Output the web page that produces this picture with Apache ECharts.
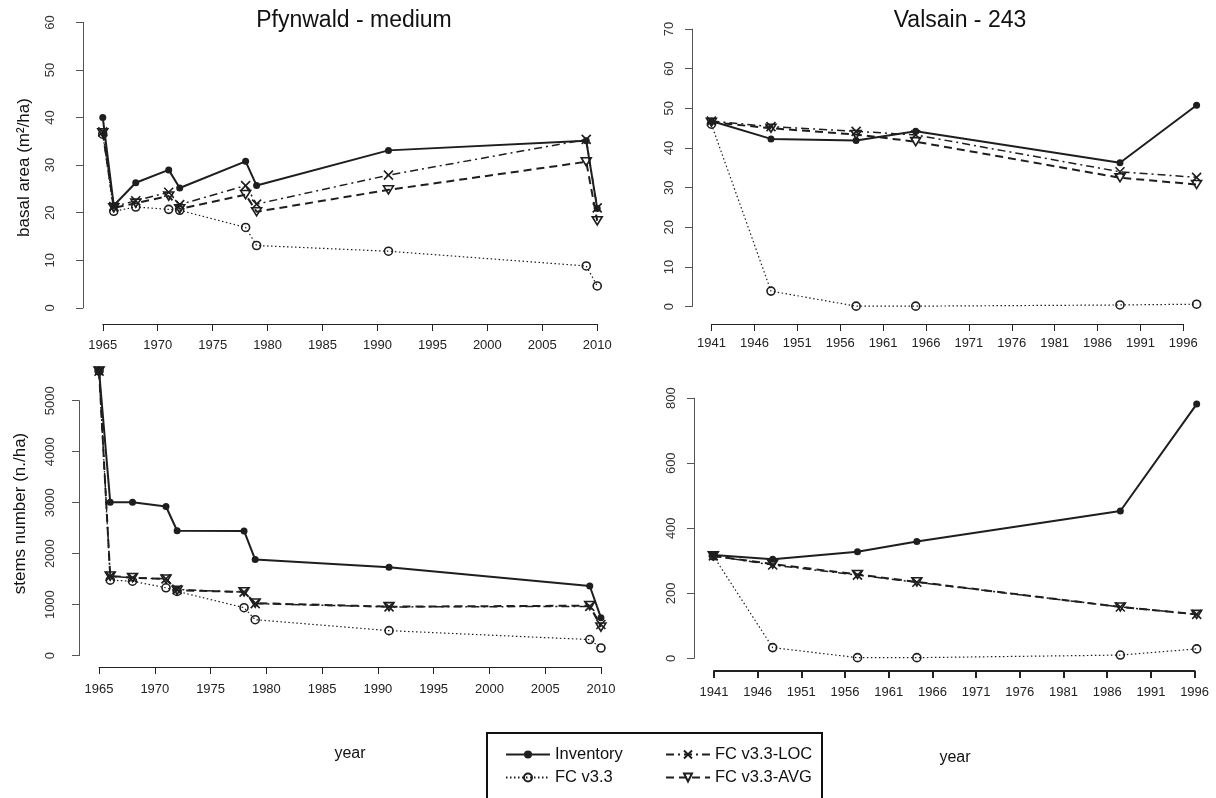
<!DOCTYPE html>
<html>
<head>
<meta charset="utf-8">
<script src="https://cdn.jsdelivr.net/npm/echarts@6/dist/echarts.min.js"></script>
<style>
  html, body { margin: 0; padding: 0; background: #ffffff; }
  #chart { width: 1216px; height: 798px; }
</style>
</head>
<body>
<div id="chart"></div>
<script>
// ---- Pfynwald, "medium" plot ----
const pfynYears = [1965, 1966, 1968, 1971, 1972, 1978, 1979, 1991, 2009, 2010];
const pfynBasalInventory = [40.0, 21.5, 26.3, 29.0, 25.2, 30.8, 25.7, 33.1, 35.1, 20.9];
const pfynBasalFC       = [36.5, 20.3, 21.2, 20.7, 20.5, 16.9, 13.1, 11.9, 8.8, 4.6];
const pfynBasalLOC      = [37.0, 21.3, 22.5, 24.3, 21.7, 25.7, 21.8, 27.9, 35.4, 21.0];
const pfynBasalAVG      = [36.8, 21.0, 22.0, 23.5, 20.8, 23.8, 20.2, 24.8, 30.7, 18.3];
const pfynStemsInventory = [5580, 3010, 3010, 2925, 2450, 2445, 1885, 1735, 1365, 745];
const pfynStemsFC        = [5580, 1480, 1460, 1330, 1260, 940, 705, 490, 315, 150];
const pfynStemsLOC       = [5580, 1555, 1525, 1505, 1295, 1245, 1020, 955, 965, 610];
const pfynStemsAVG       = [5580, 1560, 1530, 1500, 1280, 1250, 1030, 960, 980, 560];

// ---- Valsain, plot 243 ----
const valsainYears = [1941, 1948, 1958, 1965, 1989, 1998];
const valsainBasalInventory = [46.8, 42.3, 41.9, 44.2, 36.3, 50.8];
const valsainBasalFC        = [46.0, 3.9, 0.1, 0.1, 0.4, 0.6];
const valsainBasalLOC       = [46.8, 45.4, 44.2, 43.3, 34.0, 32.6];
const valsainBasalAVG       = [46.5, 45.0, 43.4, 41.6, 32.5, 30.8];
const valsainStemsInventory = [318, 305, 328, 359, 453, 782];
const valsainStemsFC        = [315, 33, 2, 2, 10, 29];
const valsainStemsLOC       = [315, 287, 256, 234, 158, 135];
const valsainStemsAVG       = [315, 290, 258, 235, 158, 135];

// ---- axis ticks ----
const pfynYearTicks = [1965, 1970, 1975, 1980, 1985, 1990, 1995, 2000, 2005, 2010];
const valsainYearTicks = [1941, 1946, 1951, 1956, 1961, 1966, 1971, 1976, 1981, 1986, 1991, 1996];
const pfynBasalTicks = [0, 10, 20, 30, 40, 50, 60];
const valsainBasalTicks = [0, 10, 20, 30, 40, 50, 60, 70];
const pfynStemsTicks = [0, 1000, 2000, 3000, 4000, 5000];
const valsainStemsTicks = [0, 200, 400, 600, 800];

const seriesNames = ['Inventory', 'FC v3.3', 'FC v3.3-LOC', 'FC v3.3-AVG'];

const FONT = '"Liberation Sans", Arial, Helvetica, sans-serif';
const INK = '#1e1e1e';

// plotting styles per model run
const styles = {
  'Inventory': {
    lineStyle: { color: INK, width: 2, type: 'solid' },
    symbol: 'circle', symbolSize: 7,
    itemStyle: { color: INK, borderColor: INK, borderWidth: 0 }
  },
  'FC v3.3': {
    lineStyle: { color: INK, width: 1.2, type: [1.5, 2.5] },
    symbol: 'path://M10,5A5,5 0 1 1 0,5A5,5 0 1 1 10,5Z', symbolSize: 8,
    itemStyle: { color: 'rgba(255,255,255,0)', borderColor: INK, borderWidth: 1.6 }
  },
  'FC v3.3-LOC': {
    lineStyle: { color: INK, width: 1.5, type: [8, 4, 2, 4] },
    symbol: 'path://M0,0L10,10M10,0L0,10', symbolSize: 9,
    itemStyle: { color: 'rgba(255,255,255,0)', borderColor: INK, borderWidth: 1.6 }
  },
  'FC v3.3-AVG': {
    lineStyle: { color: INK, width: 2, type: [8, 5] },
    symbol: 'path://M0,0L10,0L5,9Z', symbolSize: [10, 9],
    itemStyle: { color: 'rgba(255,255,255,0)', borderColor: INK, borderWidth: 1.6 }
  }
};

// plot regions (pixels) with the value range each one spans
const panels = [
  { box: { l: 83, r: 617, t: 11, b: 324 }, years: pfynYears, xr: [1963.2, 2011.8], yr: [-3.4, 62.4],
    xTicks: pfynYearTicks, yTicks: pfynBasalTicks,
    data: [pfynBasalInventory, pfynBasalFC, pfynBasalLOC, pfynBasalAVG],
    yName: 'basal area (m\u00B2/ha)', xName: '', xAxisWidth: 1, xMargin: 15, yMargin: 26 },
  { box: { l: 692, r: 1220, t: 18, b: 324 }, years: valsainYears, xr: [1938.72, 2000.28], yr: [-4.4, 72.8],
    xTicks: valsainYearTicks, yTicks: valsainBasalTicks,
    data: [valsainBasalInventory, valsainBasalFC, valsainBasalLOC, valsainBasalAVG],
    yName: '', xName: '', xAxisWidth: 1, xMargin: 13, yMargin: 16 },
  { box: { l: 79, r: 621, t: 360, b: 667 }, years: pfynYears, xr: [1963.2, 2011.8], yr: [-223, 5798],
    xTicks: pfynYearTicks, yTicks: pfynStemsTicks,
    data: [pfynStemsInventory, pfynStemsFC, pfynStemsLOC, pfynStemsAVG],
    yName: 'stems number (n./ha)', xName: 'year', xAxisWidth: 1, xMargin: 16, yMargin: 22 },
  { box: { l: 694, r: 1232, t: 354, b: 671 }, years: valsainYears, xr: [1938.72, 2000.28], yr: [-39, 936],
    xTicks: valsainYearTicks, yTicks: valsainStemsTicks,
    data: [valsainStemsInventory, valsainStemsFC, valsainStemsLOC, valsainStemsAVG],
    yName: '', xName: 'year', xAxisWidth: 2, xMargin: 15, yMargin: 16 }
];

const grid = [], xAxis = [], yAxis = [], series = [];
const axisText = { fontFamily: FONT, fontSize: 13, color: '#222' };

panels.forEach(p => {
  const w = p.box.r - p.box.l, h = p.box.b - p.box.t;
  const px = v => p.box.l + (v - p.xr[0]) / (p.xr[1] - p.xr[0]) * w;
  const py = v => p.box.b - (v - p.yr[0]) / (p.yr[1] - p.yr[0]) * h;
  const x0 = p.xTicks[0], x1 = p.xTicks[p.xTicks.length - 1];
  const y0 = p.yTicks[0], y1 = p.yTicks[p.yTicks.length - 1];

  // plot region carrying the data
  const gData = grid.length;
  grid.push({ left: p.box.l, top: p.box.t, width: w, height: h, containLabel: false });
  xAxis.push({
    gridIndex: gData, type: 'value', min: p.xr[0], max: p.xr[1],
    axisLine: { show: false }, axisTick: { show: false }, axisLabel: { show: false }, splitLine: { show: false },
    name: p.xName, nameLocation: 'middle', nameGap: 79,
    nameTextStyle: { fontFamily: FONT, fontSize: 16, color: '#111' }
  });
  yAxis.push({
    gridIndex: gData, type: 'value', min: p.yr[0], max: p.yr[1],
    axisLine: { show: false }, axisTick: { show: false }, axisLabel: { show: false }, splitLine: { show: false },
    name: p.yName, nameLocation: 'middle', nameGap: 50, nameRotate: 90,
    nameTextStyle: { fontFamily: FONT, fontSize: 17, color: '#111' }
  });

  // bottom axis: line spans first to last tick only
  const gX = grid.length;
  grid.push({ left: px(x0), width: px(x1) - px(x0), top: p.box.t, height: h });
  xAxis.push({
    gridIndex: gX, type: 'value', min: x0, max: x1, position: 'bottom',
    axisLine: { show: true, lineStyle: { color: '#222', width: p.xAxisWidth } },
    axisTick: { show: true, inside: false, length: 7, customValues: p.xTicks, lineStyle: { color: '#222', width: p.xAxisWidth } },
    axisLabel: { show: true, customValues: p.xTicks, margin: p.xMargin, ...axisText, formatter: v => String(v) },
    splitLine: { show: false }
  });
  yAxis.push({ gridIndex: gX, type: 'value', min: 0, max: 1, show: false });

  // left axis: line spans first to last tick only
  const gY = grid.length;
  grid.push({ left: p.box.l, width: w, top: py(y1), height: py(y0) - py(y1) });
  xAxis.push({ gridIndex: gY, type: 'value', min: 0, max: 1, show: false });
  yAxis.push({
    gridIndex: gY, type: 'value', min: y0, max: y1, position: 'left',
    axisLine: { show: true, lineStyle: { color: '#555', width: 1 } },
    axisTick: { show: true, inside: false, length: 7, customValues: p.yTicks, lineStyle: { color: '#555' } },
    axisLabel: { show: true, customValues: p.yTicks, rotate: 90, margin: p.yMargin, ...axisText, color: '#333',
      formatter: v => String(v) },
    splitLine: { show: false }
  });

  seriesNames.forEach((name, k) => {
    const st = styles[name];
    series.push({
      name, type: 'line', xAxisIndex: gData, yAxisIndex: gData,
      data: p.years.map((yr, i) => [yr, p.data[k][i]]),
      symbol: st.symbol, symbolSize: st.symbolSize, symbolKeepAspect: true,
      showAllSymbol: true, clip: false, animation: false,
      lineStyle: st.lineStyle, itemStyle: st.itemStyle,
      emphasis: { disabled: true }, z: 4 - k
    });
  });
});

const legendText = { fontFamily: FONT, fontSize: 16.5, color: '#111' };
const option = {
  backgroundColor: '#ffffff',
  animation: false,
  grid, xAxis, yAxis, series,
  legend: [
    { data: ['Inventory', 'FC v3.3'], orient: 'vertical', left: 500, top: 741, itemWidth: 44, itemHeight: 10,
      itemGap: 6, textStyle: legendText, selectedMode: false },
    { data: ['FC v3.3-LOC', 'FC v3.3-AVG'], orient: 'vertical', left: 660, top: 741, itemWidth: 44, itemHeight: 10,
      itemGap: 6, textStyle: legendText, selectedMode: false }
  ],
  graphic: [
    { type: 'text', x: 354, y: 21, style: { text: 'Pfynwald - medium', align: 'center', verticalAlign: 'middle',
      font: '23px ' + FONT, fill: '#111' } },
    { type: 'text', x: 960, y: 21, style: { text: 'Valsain - 243', align: 'center', verticalAlign: 'middle',
      font: '23px ' + FONT, fill: '#111' } },
    { type: 'rect', shape: { x: 487, y: 733, width: 335, height: 80 },
      style: { fill: 'none', stroke: '#111', lineWidth: 2 } }
  ]
};

const chart = echarts.init(document.getElementById('chart'), null, { renderer: 'canvas' });
chart.setOption(option);
</script>
</body>
</html>
